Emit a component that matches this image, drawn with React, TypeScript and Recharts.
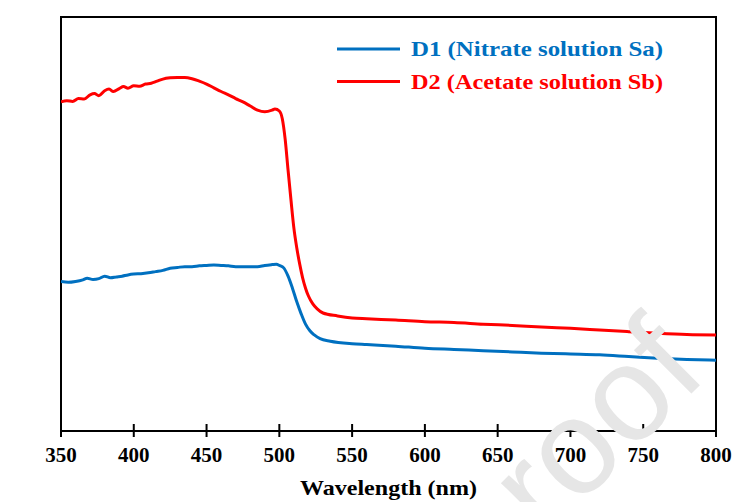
import { LineChart, Line, XAxis, YAxis, ReferenceArea } from 'recharts';

// wavelength (nm) and absorbance (a.u.)
const redWavelength = [
  350, 354, 358, 362, 366, 370, 373, 376, 380, 383, 386, 390, 393, 396, 400, 404, 408, 412,
  416, 420, 425, 430, 435, 440, 445, 450, 455, 460, 465, 470, 475, 480, 485, 490, 495, 497,
  500, 502, 504, 506, 508, 510, 512, 514, 516, 518, 520, 523, 526, 530, 540, 550, 560, 580,
  600, 620, 640, 660, 680, 700, 720, 740, 760, 780, 800
];
const redAbsorbance = [
  79.5, 79.8, 79.6, 80.3, 80.2, 81.2, 81.5, 81.0, 82.2, 82.6, 82.0, 82.7, 83.2, 82.8, 83.4,
  83.3, 83.8, 84.0, 84.5, 85.0, 85.3, 85.4, 85.4, 85.1, 84.5, 83.8, 82.9, 82.0, 81.2, 80.3,
  79.5, 78.5, 77.5, 77.1, 77.5, 77.8, 77.3, 75.5, 70.5, 63.0, 55.8, 49.0, 44.2, 40.3, 37.0,
  34.5, 32.6, 30.7, 29.5, 28.5, 27.8, 27.3, 27.1, 26.8, 26.4, 26.2, 25.8, 25.5, 25.1, 24.8,
  24.4, 24.0, 23.6, 23.3, 23.2
];

const blueWavelength = [
  350, 355, 360, 365, 368, 372, 376, 380, 384, 388, 392, 396, 400, 405, 410, 415, 420, 425,
  430, 435, 440, 445, 450, 455, 460, 465, 470, 475, 480, 485, 490, 495, 498, 500, 503, 506,
  509, 512, 515, 518, 521, 524, 528, 535, 550, 560, 580, 600, 620, 640, 660, 680, 700, 720,
  740, 760, 780, 800
];
const blueAbsorbance = [
  36.1, 35.9, 36.1, 36.5, 36.9, 36.6, 36.8, 37.4, 37.0, 37.2, 37.4, 37.7, 37.9, 38.0, 38.2,
  38.5, 38.8, 39.3, 39.5, 39.7, 39.7, 39.9, 40.0, 40.1, 40.0, 39.9, 39.7, 39.7, 39.7, 39.7,
  40.0, 40.2, 40.3, 40.0, 39.4, 37.4, 34.5, 31.2, 28.3, 25.8, 24.2, 23.2, 22.3, 21.7, 21.1,
  20.9, 20.5, 20.0, 19.7, 19.4, 19.1, 18.8, 18.6, 18.4, 18.0, 17.6, 17.3, 17.1
];

const xTicks = [350, 400, 450, 500, 550, 600, 650, 700, 750, 800];

const seriesNames = ['D1 (Nitrate solution Sa)', 'D2 (Acetate solution Sb)'];
const seriesColors = ['#0070c0', '#ff0000'];

const redData = redWavelength.map((x, i) => ({ x, y: redAbsorbance[i] }));
const blueData = blueWavelength.map((x, i) => ({ x, y: blueAbsorbance[i] }));

const FONT = '"Liberation Serif", "Times New Roman", serif';

const XTick = ({ x, y, payload }: any) => (
  <g>
    <line x1={x} x2={x} y1={y - 14} y2={y - 21} stroke="#000" strokeWidth={2} />
    <text
      x={x}
      y={y + 17}
      textAnchor="middle"
      fontFamily={FONT}
      fontWeight="bold"
      fontSize={21}
      fill="#000"
    >
      {payload.value}
    </text>
  </g>
);

const XTitle = ({ viewBox }: any) => (
  <text
    x={viewBox.x + viewBox.width / 2}
    y={viewBox.y + 64}
    textAnchor="middle"
    fontFamily={FONT}
    fontWeight="bold"
    fontSize={22}
    textLength={177}
    lengthAdjust="spacingAndGlyphs"
    fill="#000"
  >
    Wavelength (nm)
  </text>
);

const YTitle = ({ viewBox }: any) => {
  const cx = viewBox.x - 40;
  const cy = viewBox.y + viewBox.height / 2 + 6;
  return (
    <text
      x={cx}
      y={cy}
      transform={`rotate(-90 ${cx} ${cy})`}
      textAnchor="middle"
      dominantBaseline="central"
      fontFamily={FONT}
      fontWeight="bold"
      fontSize={20}
      textLength={186}
      lengthAdjust="spacingAndGlyphs"
      fill="#000"
    >
      Absorbance (a.u)
    </text>
  );
};

const ChartLegend = () => (
  <svg
    width={736}
    height={502}
    style={{ position: 'absolute', left: 0, top: 0, pointerEvents: 'none' }}
  >
    <text
      x={545}
      y={540}
      transform="rotate(-45 545 540)"
      fontFamily="'Liberation Sans', Arial, sans-serif"
      fontSize={135}
      fill="#e6e6e6"
    >
      roof
    </text>
    {seriesNames.map((name, i) => (
      <g key={name}>
        <line x1={337} x2={400} y1={49 + i * 32.5} y2={49 + i * 32.5} stroke={seriesColors[i]} strokeWidth={3} />
        <text
          x={411}
          y={56 + i * 32.5}
          fontFamily={FONT}
          fontWeight="bold"
          fontSize={22}
          textLength={252}
          lengthAdjust="spacingAndGlyphs"
          fill={seriesColors[i]}
        >
          {name}
        </text>
      </g>
    ))}
  </svg>
);

export default function App() {
  return (
    <div style={{ position: 'relative', width: 736, height: 502, background: '#fff' }}>
      <style>{'body { margin: 0; }'}</style>
      <LineChart width={736} height={502} margin={{ top: 17, right: 20, left: 61, bottom: 31 }}>
        <XAxis
          type="number"
          dataKey="x"
          domain={[350, 800]}
          ticks={xTicks}
          allowDataOverflow
          height={40}
          tickSize={6}
          tickMargin={8}
          axisLine={{ stroke: '#000', strokeWidth: 2 }}
          tickLine={{ stroke: '#000', strokeWidth: 2 }}
          tick={<XTick />}
          label={XTitle}
        />
        <YAxis
          type="number"
          dataKey="y"
          domain={[0, 100]}
          width={0}
          tick={false}
          axisLine={false}
          tickLine={false}
          label={YTitle}
        />
        <ReferenceArea
          x1={350}
          x2={800}
          y1={0}
          y2={100}
          fill="none"
          fillOpacity={0}
          stroke="#000"
          strokeWidth={2}
        />
        <Line
          data={blueData}
          dataKey="y"
          name={seriesNames[0]}
          type="monotone"
          stroke={seriesColors[0]}
          strokeWidth={3}
          dot={false}
          isAnimationActive={false}
        />
        <Line
          data={redData}
          dataKey="y"
          name={seriesNames[1]}
          type="monotone"
          stroke={seriesColors[1]}
          strokeWidth={3}
          dot={false}
          isAnimationActive={false}
        />
      </LineChart>
      <ChartLegend />
    </div>
  );
}
